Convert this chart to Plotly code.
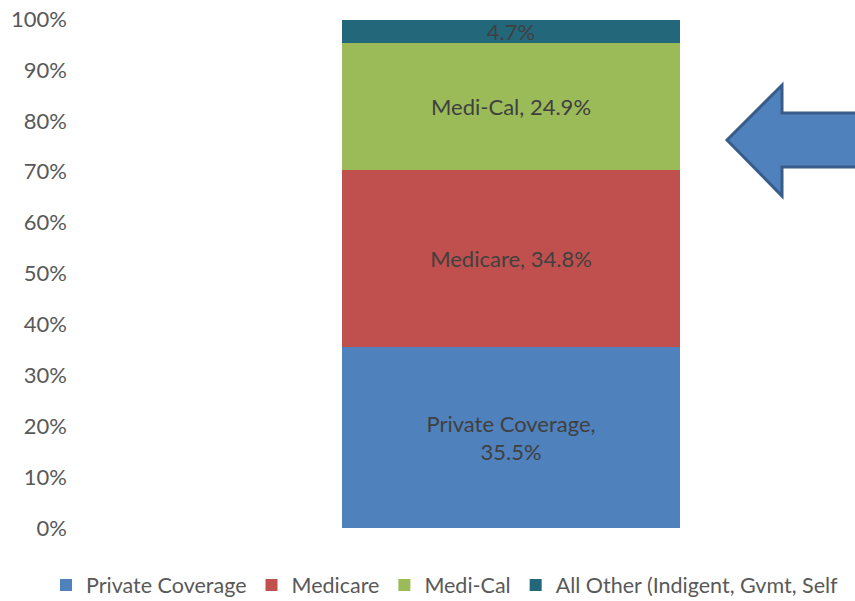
import plotly.graph_objects as go

categories = ["Payer Mix"]
series_names = ["Private Coverage", "Medicare", "Medi-Cal", "All Other (Indigent, Gvmt, Self"]
series_values = [35.5, 34.8, 24.9, 4.7]
label_texts = ["Private Coverage,<br>35.5%", "Medicare, 34.8%", "Medi-Cal, 24.9%", "4.7%"]
colors = ["#4F81BD", "#C0504D", "#9BBB59", "#23687A"]
tick_vals = [0, 10, 20, 30, 40, 50, 60, 70, 80, 90, 100]
tick_text = ["0%", "10%", "20%", "30%", "40%", "50%", "60%", "70%", "80%", "90%", "100%"]

VIEW_W = 855
W, H = 1100, 601          # layout wider than the window; the right part is clipped like the reference
L, R, T, B = 80, 0, 19, 73
bar_left_px, bar_right_px = 342, 680
unit = bar_right_px - bar_left_px
center_px = (bar_left_px + bar_right_px) / 2
xr = [(L - center_px) / unit, (W - R - center_px) / unit]

FONT = "Lato"
FS = 22

fig = go.Figure()
for name, val, txt, col in zip(series_names, series_values, label_texts, colors):
    fig.add_trace(go.Bar(
        x=[0], y=[val], name=name, width=1,
        marker=dict(color=col, line=dict(width=0)),
        text=[txt], texttemplate="%{text}", textposition="inside",
        insidetextanchor="middle", textangle=0, constraintext="none",
        textfont=dict(family=FONT, size=FS, color="#404040"),
        hoverinfo="skip",
    ))

# arrow decoration in pixel space -> data coords
def px2d(px, py):
    x = (px - center_px) / unit
    y = (H - B - py) / (H - T - B) * 100
    return x, y

pts = [(727, 140), (782, 85), (782, 113), (870, 113), (870, 167), (782, 167), (782, 196)]
path = "M " + " L ".join(f"{px2d(a, b)[0]:.4f},{px2d(a, b)[1]:.4f}" for a, b in pts) + " Z"
fig.add_shape(type="path", path=path, xref="x", yref="y",
              fillcolor="#4F81BD", line=dict(color="#385D8A", width=3), layer="above")

fig.update_layout(
    width=W, height=H,
    margin=dict(l=L, r=R, t=T, b=B, autoexpand=False),
    paper_bgcolor="white", plot_bgcolor="white",
    barmode="stack", bargap=0,
    font=dict(family=FONT, color="#595959"),
    showlegend=True,
    legend=dict(orientation="h", xref="container", yref="container",
                x=46 / W, y=(H - 585) / H, xanchor="left", yanchor="middle",
                font=dict(family=FONT, size=21.5, color="#595959"),
                itemwidth=30,
                traceorder="normal", itemclick=False, itemdoubleclick=False,
                tracegroupgap=0),
    xaxis=dict(range=xr, visible=False, fixedrange=True),
    yaxis=dict(range=[0, 100], tickvals=tick_vals, ticktext=tick_text,
               showgrid=False, zeroline=False, showline=False, ticks="",
               ticklabelstandoff=12,
               tickfont=dict(family=FONT, size=FS, color="#595959"),
               fixedrange=True),
)

fig.write_html("out.html", config={"displayModeBar": False},
               post_script="document.body.style.margin='0';document.body.style.overflow='hidden';")
